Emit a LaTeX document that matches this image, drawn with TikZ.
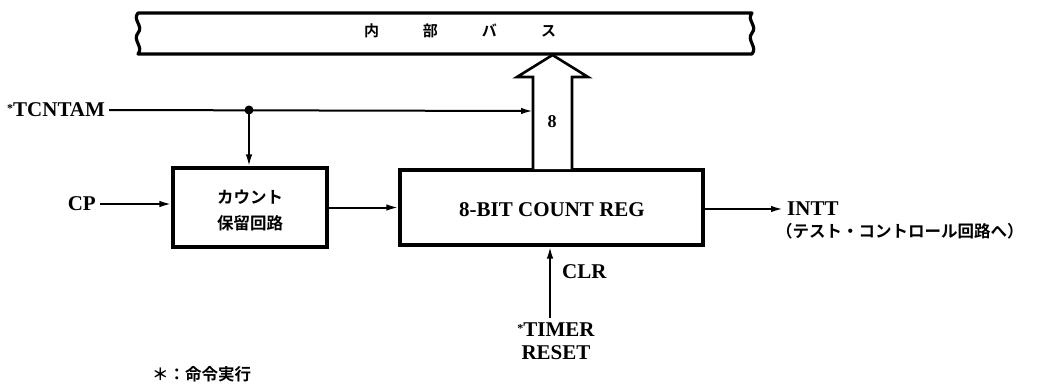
\documentclass[tikz,border=0pt]{standalone}
\usepackage{fontspec}
\setmainfont{Liberation Serif}
\newfontfamily\jp{Noto Sans CJK JP}[BoldFont={* Bold}]
\usetikzlibrary{arrows.meta,calc}
\tikzset{
  lbl/.style={font=\fontsize{21}{24}\selectfont\bfseries, inner sep=0pt},
  jlbl/.style={font=\fontsize{16.5}{20}\selectfont\jp\bfseries, inner sep=0pt},
  blk/.style={draw, line width=3.2pt, inner sep=0pt},
  conn/.style={line width=2pt, -{Latex[length=12pt,width=6.5pt]}},
}
\newcommand{\mystar}{\raisebox{0.5ex}{\fontsize{12}{12}\selectfont\bfseries *}}
\begin{document}
\begin{tikzpicture}[x=1pt,y=-1pt]
\useasboundingbox (0,0) rectangle (1052,389);
% internal bus
\draw[line width=3.2pt, line join=round]
  (138,13) -- (752,13)
  .. controls (746,20) and (758,26) .. (752,33)
  .. controls (746,40) and (758,47) .. (752,54)
  -- (138,54)
  .. controls (144,47) and (132,40) .. (138,33)
  .. controls (144,26) and (132,20) .. cycle;
\node[font=\fontsize{15}{18}\selectfont\jp\bfseries, inner sep=0pt] (bus) at (460,31) {内\hskip44pt 部\hskip44pt バ\hskip44pt ス};
% blocks
\node[blk, minimum width=154pt, minimum height=79pt] (hold) at (250,207.5) {};
\node[jlbl, align=center] (holdtxt) at (250,210) {カウント\\[6pt]保留回路};
\node[blk, minimum width=303pt, minimum height=75pt] (reg) at (551.5,207.5) {};
\node[lbl] (regtxt) at (552,210) {8-BIT COUNT REG};
% hollow bus arrow
\draw[line width=2.6pt, line join=miter, fill=white]
  (533,169) -- (533,77) -- (517,77) -- (552.5,55) -- (588,77) -- (572,77) -- (572,169);
\node[font=\fontsize{18}{20}\selectfont\bfseries, inner sep=0pt] (eight) at (552,122) {8};
\coordinate (shaftL) at (533,111);
% labels
\node[lbl, anchor=west] (tcntam) at (7,110) {\mystar TCNTAM};
\node[lbl, anchor=east] (cp) at (96,204) {CP};
\node[lbl, anchor=west] (intt) at (787,209) {INTT};
\node[jlbl, anchor=west] (inttnote) at (776,231) {（テスト・コントロール回路へ）};
\node[lbl, align=center, anchor=north] (timer) at (556,323) {\mystar TIMER\\[-1pt]RESET};
\node[lbl, anchor=west] (clr) at (562,272) {CLR};
\node[jlbl, anchor=west] (note) at (152,374) {＊：命令実行};
\coordinate (clrstart) at (550,318);
\coordinate (j) at (249,110);
% connectors
\draw[conn] ($(tcntam.east)+(4,0)$) -- (shaftL);
\fill (j) circle (4.5pt);
\draw[conn] (j) -- (j |- hold.north);
\draw[conn] ($(cp.east)+(4,0)$) -- (cp.east -| hold.west);
\draw[conn] (hold.east) -- (reg.west);
\draw[conn] (reg.east |- intt.west) -- ($(intt.west)+(-4,0)$);
\draw[conn] (clrstart) -- (clrstart |- reg.south);
\end{tikzpicture}
\end{document}
